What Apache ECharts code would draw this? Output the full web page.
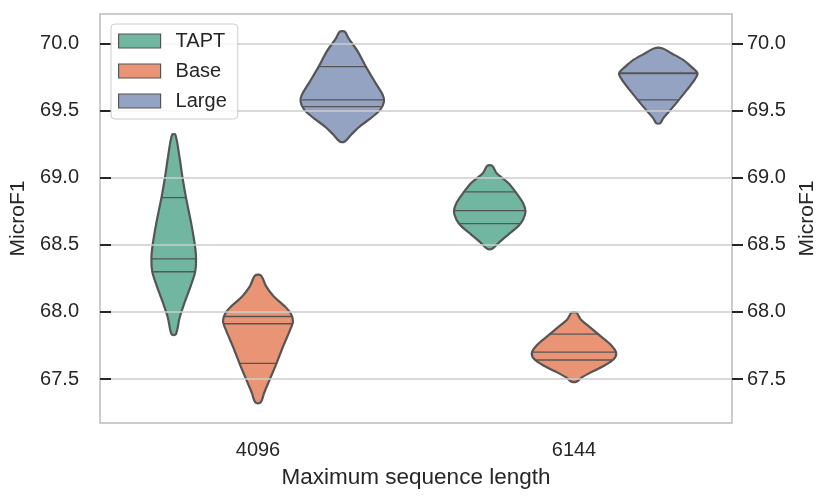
<!DOCTYPE html>
<html>
<head>
<meta charset="utf-8">
<title>MicroF1 violin</title>
<script src="https://cdn.jsdelivr.net/npm/echarts@6/dist/echarts.min.js"></script>
<style>
    html, body { margin: 0; padding: 0; background: #fff; }
    #chart { width: 831px; height: 502px; }
</style>
</head>
<body>
<div id="chart"></div>
<script>
// categories on the x axis and the hue groups
var categories = ['4096', '6144'];
var groups = ['TAPT', 'Base', 'Large'];
var groupColors = ['#71b6a1', '#e99575', '#95a3c3'];

// y ticks
var yTicks = [67.5, 68.0, 68.5, 69.0, 69.5, 70.0];
var yMin = 67.173;
var yMax = 70.218;

// violin outlines: [MicroF1, relative density], one list per category
var taptOutline = [
    [[69.319, 0.04], [69.146, 0.14], [68.997, 0.21], [68.853, 0.29], [68.65, 0.42], [68.50, 0.50],
     [68.40, 0.53], [68.30, 0.51], [68.20, 0.41], [68.08, 0.27], [67.957, 0.14], [67.833, 0.05]],
    [[69.088, 0.06], [69.034, 0.16], [68.960, 0.44], [68.886, 0.63], [68.811, 0.79], [68.749, 0.85],
     [68.687, 0.79], [68.637, 0.67], [68.576, 0.44], [68.514, 0.21], [68.470, 0.06]]
];
var baseOutline = [
    [[68.271, 0.07], [68.192, 0.19], [68.117, 0.37], [68.043, 0.63], [67.993, 0.77], [67.931, 0.83],
     [67.857, 0.75], [67.746, 0.60], [67.61, 0.43], [67.498, 0.28], [67.40, 0.15], [67.325, 0.06]],
    [[67.994, 0.06], [67.944, 0.16], [67.883, 0.39], [67.820, 0.63], [67.759, 0.86], [67.697, 1.00],
     [67.647, 0.94], [67.597, 0.70], [67.548, 0.39], [67.511, 0.18], [67.481, 0.06]]
];
var largeOutline = [
    [[70.086, 0.06], [70.037, 0.15], [69.938, 0.37], [69.826, 0.56], [69.715, 0.77], [69.616, 0.96],
     [69.566, 0.99], [69.504, 0.90], [69.443, 0.68], [69.380, 0.41], [69.319, 0.21], [69.269, 0.06]],
    [[69.963, 0.09], [69.926, 0.31], [69.876, 0.59], [69.826, 0.78], [69.777, 0.93], [69.727, 0.86],
     [69.653, 0.68], [69.579, 0.49], [69.504, 0.29], [69.443, 0.12], [69.406, 0.05]]
];

// quartiles [q1, median, q3] per category
var taptQuartiles = [[68.299, 68.395, 68.851], [68.657, 68.754, 68.893]];
var baseQuartiles = [[67.617, 67.912, 67.966], [67.642, 67.701, 67.835]];
var largeQuartiles = [[69.529, 69.579, 69.826], [69.579, 69.774, 69.780]];

var outlines = [taptOutline, baseOutline, largeOutline];
var quartiles = [taptQuartiles, baseQuartiles, largeQuartiles];

var edgeColor = '#555555';
var textColor = '#262626';
var fontFamily = '"Liberation Sans", Arial, sans-serif';

// density at a value, linear between the read points
function densityAt(outline, v) {
    for (var i = 0; i < outline.length - 1; i++) {
        var a = outline[i], b = outline[i + 1];
        if (v <= a[0] && v >= b[0]) {
            var t = (a[0] - v) / (a[0] - b[0]);
            return a[1] + (b[1] - a[1]) * t;
        }
    }
    return 0;
}

function violinRenderer(hueIdx) {
    return function (params, api) {
        var cat = api.value(0);
        var outline = outlines[hueIdx][cat];
        var quart = quartiles[hueIdx][cat];
        var slot = api.size([1, 0])[0] * 0.8 / groups.length;
        var cx = api.coord([cat, yMin])[0] + (hueIdx - 1) * slot;
        var half = slot / 2;

        var left = [], right = [];
        for (var i = 0; i < outline.length; i++) {
            var y = api.coord([cat, outline[i][0]])[1];
            left.push([cx - outline[i][1] * half, y]);
            right.push([cx + outline[i][1] * half, y]);
        }
        var children = [{
            type: 'polygon',
            shape: { points: left.concat(right.reverse()), smooth: 0.3 },
            style: { fill: groupColors[hueIdx], stroke: edgeColor, lineWidth: 2.2 }
        }];

        for (var q = 0; q < quart.length; q++) {
            var w = densityAt(outline, quart[q]) * half;
            var qy = api.coord([cat, quart[q]])[1];
            children.push({
                type: 'line',
                shape: { x1: cx - w, y1: qy, x2: cx + w, y2: qy },
                style: { stroke: edgeColor, lineWidth: 1.3 }
            });
        }
        return { type: 'group', children: children };
    };
}

var series = [];
for (var g = 0; g < groups.length; g++) {
    var data = [];
    for (var c = 0; c < categories.length; c++) {
        data.push([c, quartiles[g][c][1]]);
    }
    series.push({
        name: groups[g],
        type: 'custom',
        renderItem: violinRenderer(g),
        itemStyle: { color: groupColors[g], borderColor: edgeColor, borderWidth: 1.2 },
        data: data,
        animation: false
    });
}

// the left axis does not show outward ticks here, so its ticks sit inside
function yAxisFor(position, margin, gap, grid, inside) {
    return {
        type: 'value',
        position: position,
        min: yMin,
        max: yMax,
        name: 'MicroF1',
        nameLocation: 'middle',
        nameGap: gap,
        nameTextStyle: { color: textColor, fontSize: 21, fontFamily: fontFamily },
        axisLine: { show: true, onZero: false, lineStyle: { color: '#cccccc', width: 2 } },
        axisTick: {
            show: true,
            inside: inside,
            customValues: yTicks,
            length: 11,
            lineStyle: { color: textColor, width: 2 }
        },
        axisLabel: {
            customValues: yTicks,
            margin: margin,
            color: textColor,
            fontSize: 20,
            fontFamily: fontFamily,
            formatter: function (v) { return v.toFixed(1); }
        },
        splitLine: {
            show: grid,
            lineStyle: { color: '#cccccc', width: 1.5 }
        },
        z: 3
    };
}

var chart = echarts.init(document.getElementById('chart'));

var option = {
    backgroundColor: '#fff',
    animation: false,
    grid: {
        left: 100,
        right: 99,
        top: 14,
        bottom: 79,
        show: true,
        borderColor: '#cccccc',
        borderWidth: 2
    },
    legend: {
        orient: 'vertical',
        left: 111,
        top: 24,
        padding: [7, 11, 8, 7],
        itemGap: 10,
        itemWidth: 42,
        itemHeight: 14,
        icon: 'rect',
        backgroundColor: 'rgba(255,255,255,0.8)',
        borderColor: '#cccccc',
        borderWidth: 1,
        borderRadius: 4,
        textStyle: { color: textColor, fontSize: 20, fontFamily: fontFamily, padding: [0, 0, 0, 10] },
        data: groups.map(function (name, i) {
            return {
                name: name,
                itemStyle: { color: groupColors[i], borderColor: edgeColor, borderWidth: 1.2 }
            };
        })
    },
    xAxis: {
        type: 'category',
        data: categories,
        name: 'Maximum sequence length',
        nameLocation: 'middle',
        nameGap: 43,
        nameTextStyle: { color: textColor, fontSize: 22.5, fontFamily: fontFamily },
        axisLine: { show: false },
        axisTick: { show: false },
        axisLabel: { margin: 17, color: textColor, fontSize: 20, fontFamily: fontFamily },
        splitLine: { show: false }
    },
    yAxis: [yAxisFor('left', 21, 54, true, true), yAxisFor('right', 15, 57, false, false)],
    series: series
};

chart.setOption(option);
</script>
</body>
</html>
